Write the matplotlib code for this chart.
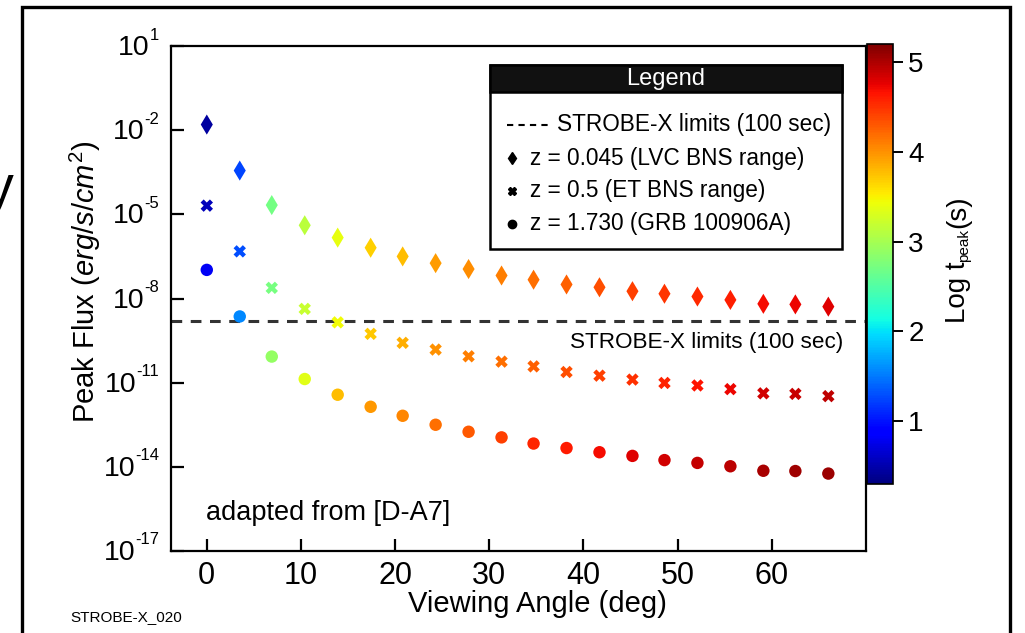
import numpy as np
import matplotlib
matplotlib.use('Agg')
import matplotlib.pyplot as plt
from matplotlib.patches import Rectangle
from matplotlib.lines import Line2D

plt.rcParams['font.family'] = ['Liberation Sans', 'DejaVu Sans']
plt.rcParams['mathtext.fontset'] = 'custom'
plt.rcParams['mathtext.rm'] = 'Liberation Sans'
plt.rcParams['mathtext.it'] = 'Liberation Sans:italic'

# viewing angles (deg)
angles = [0, 3.5, 6.9, 10.4, 13.9, 17.4, 20.8, 24.3, 27.8, 31.3,
          34.7, 38.2, 41.7, 45.2, 48.6, 52.1, 55.6, 59.1, 62.5, 66.0]

# log10 peak flux (erg/s/cm^2)
logflux_lvc = [-1.80, -3.44, -4.67, -5.39, -5.83, -6.19, -6.50, -6.74, -6.95, -7.18,
               -7.33, -7.50, -7.60, -7.74, -7.83, -7.93, -8.05, -8.19, -8.21, -8.29]
logflux_et = [-4.69, -6.32, -7.62, -8.37, -8.85, -9.26, -9.58, -9.82, -10.06, -10.25,
              -10.42, -10.62, -10.75, -10.89, -11.01, -11.10, -11.23, -11.38, -11.40, -11.48]
logflux_grb = [-6.98, -8.64, -10.07, -10.87, -11.43, -11.86, -12.18, -12.50, -12.75, -12.95,
               -13.17, -13.33, -13.48, -13.61, -13.76, -13.86, -13.98, -14.14, -14.15, -14.24]

# log t_peak (s), used for marker colour
logt_lvc = [0.45, 1.25, 2.70, 3.12, 3.39, 3.68, 3.78, 3.95, 4.03, 4.10,
            4.18, 4.26, 4.34, 4.42, 4.48, 4.54, 4.60, 4.70, 4.74, 4.78]
logt_et = [0.55, 1.28, 2.72, 3.20, 3.45, 3.72, 3.85, 4.00, 4.10, 4.18,
           4.26, 4.34, 4.42, 4.50, 4.58, 4.66, 4.74, 4.84, 4.88, 4.93]
logt_grb = [0.80, 1.57, 2.90, 3.35, 3.78, 3.97, 4.07, 4.17, 4.30, 4.42,
            4.55, 4.62, 4.70, 4.78, 4.85, 4.90, 4.95, 5.02, 5.05, 5.08]

yexps = [1, -2, -5, -8, -11, -14, -17]
xticks = [0, 10, 20, 30, 40, 50, 60]
cbticks = [1, 2, 3, 4, 5]
strobe_limit = 1.55e-9

W, H = 1025, 633
fig = plt.figure(figsize=(W / 100, H / 100), dpi=100)
fig.patch.set_facecolor('white')
renderer = fig.canvas.get_renderer()


def fx(px):
    return px / W


def fy(py):
    return 1 - py / H


ax = fig.add_axes([fx(171), fy(551), fx(866) - fx(171), fy(46) - fy(551)])
cax = fig.add_axes([fx(867), fy(484), fx(893) - fx(867), fy(44) - fy(484)])

vmin, vmax = 0.3, 5.2
kw = dict(cmap='jet', vmin=vmin, vmax=vmax, edgecolors='none', zorder=3)
sc = ax.scatter(angles, 10 ** np.array(logflux_lvc), c=logt_lvc, marker='d', s=105, **kw)
ax.scatter(angles, 10 ** np.array(logflux_et), c=logt_et, marker='X', s=80, **kw)
ax.scatter(angles, 10 ** np.array(logflux_grb), c=logt_grb, marker='o', s=80, **kw)

ax.axhline(strobe_limit, color='#333333', lw=2.2, ls=(0, (3.5, 2.8)), zorder=2)

ax.set_yscale('log')
ax.set_ylim(1e-17, 1e1)
ax.set_xlim(-3.8, 70)
ax.set_yticks([10.0 ** e for e in yexps])
ax.set_yticklabels([])
ax.minorticks_off()
ax.set_xticks(xticks)

ax.tick_params(axis='both', direction='in', length=9, width=1.6, labelsize=22)
ax.tick_params(axis='x', pad=7)
for sp in ax.spines.values():
    sp.set_linewidth(1.6)

# y tick labels "10" + small superscript with plain hyphen
for e in yexps:
    ty = ax.transData.transform((0, 10.0 ** e))[1]
    sup = fig.text(159, ty + 11, str(e), transform=None,
                   ha='right', va='center', fontsize=12)
    w = sup.get_window_extent(renderer).width
    fig.text(159 - w, ty - 2, '10', transform=None, ha='right', va='center', fontsize=20.5)

ax.set_xlabel('Viewing Angle (deg)', fontsize=21)
ax.xaxis.set_label_coords(0.527, -0.078)
ax.set_ylabel(r'Peak Flux ($\mathit{erg/s/cm}^{2}$)', fontsize=21)
ax.yaxis.set_label_coords(-0.098, 0.533)

ax.text(0.967, 0.412, 'STROBE-X limits (100 sec)', transform=ax.transAxes,
        ha='right', va='center', fontsize=16.2)
ax.text(0.05, 0.075, 'adapted from [D-A7]', transform=ax.transAxes,
        ha='left', va='center', fontsize=19.5)

# colorbar
cb = fig.colorbar(sc, cax=cax)
cb.set_ticks(cbticks)
cb.outline.set_linewidth(1.2)
cax.tick_params(direction='out', length=7, width=1.4, labelsize=20, pad=4)

# colorbar label: Log t + small "peak" subscript + (s), stacked upwards
yb = H - 323
t1 = fig.text(958, yb, 'Log t', transform=None, rotation=90,
              ha='center', va='bottom', fontsize=20)
yb += t1.get_window_extent(renderer).height
t2 = fig.text(964, yb, 'peak', transform=None, rotation=90,
              ha='center', va='bottom', fontsize=11)
yb += t2.get_window_extent(renderer).height
fig.text(958, yb, '(s)', transform=None, rotation=90,
         ha='center', va='bottom', fontsize=20)

# legend box drawn by hand
fig.patches.append(Rectangle((fx(490), fy(249)), fx(842) - fx(490), fy(65) - fy(249),
                             transform=fig.transFigure, facecolor='white',
                             edgecolor='black', lw=1.8, zorder=5))
fig.patches.append(Rectangle((fx(490), fy(92)), fx(842) - fx(490), fy(65) - fy(92),
                             transform=fig.transFigure, facecolor='#111111',
                             edgecolor='black', lw=1.8, zorder=6))
fig.text(fx(666), fy(79), 'Legend', color='white', ha='center', va='center',
         fontsize=17, zorder=7)
fig.lines.append(Line2D([fx(507), fx(549)], [fy(125), fy(125)], transform=fig.transFigure,
                        color='black', lw=1.5, ls=(0, (3, 2.5)), zorder=7))
rows = [(158, 'd', 'z = 0.045 (LVC BNS range)'),
        (191, 'X', 'z = 0.5 (ET BNS range)'),
        (224, 'o', 'z = 1.730 (GRB 100906A)')]
fig.text(fx(557), fy(125), 'STROBE-X limits (100 sec)', ha='left', va='center',
         fontsize=16.3, zorder=7)
for py, m, lab in rows:
    fig.lines.append(Line2D([fx(512)], [fy(py)], transform=fig.transFigure,
                            marker=m, color='black', markersize=6, ls='none', zorder=7))
    fig.text(fx(530), fy(py), lab, ha='left', va='center', fontsize=16.3, zorder=7)

# outer frame and small footer
fig.patches.append(Rectangle((fx(22), -0.1), fx(1010) - fx(22), fy(7) + 0.1,
                             transform=fig.transFigure, facecolor='none',
                             edgecolor='black', lw=2.4, zorder=10))
fig.text(fx(70), fy(617), 'STROBE-X_020', ha='left', va='center', fontsize=11)
fig.text(fx(14), fy(190), 'y', ha='right', va='center', fontsize=40)

fig.savefig('out.png', dpi=100)
